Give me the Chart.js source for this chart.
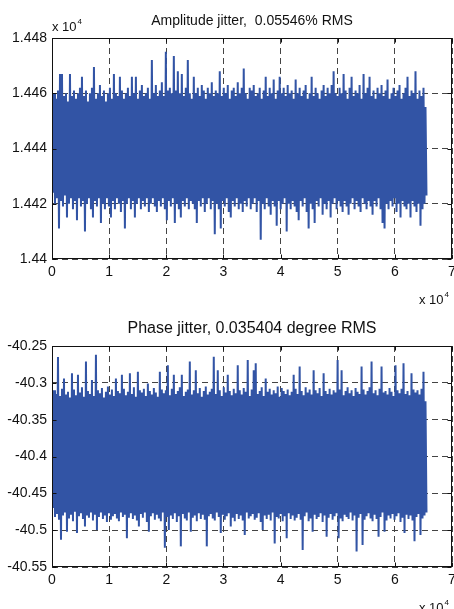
<!DOCTYPE html>
<html>
<head>
<meta charset="utf-8">
<script src="https://cdn.jsdelivr.net/npm/chart.js@4.4.1/dist/chart.umd.min.js"></script>
<style>
  html, body { margin: 0; padding: 0; background: #fff; }
  body { width: 454px; height: 609px; position: relative; overflow: hidden; }
  canvas { position: absolute; left: 0; display: block; }
  #c1 { top: 0; z-index: 1; }
  #c2 { top: 300px; z-index: 2; }
</style>
</head>
<body>
<canvas id="c1" width="454" height="312"></canvas>
<canvas id="c2" width="454" height="309"></canvas>
<script>
// ---------------- data ----------------
const SAMPLES = 65536;
const xTickValues = [0, 10000, 20000, 30000, 40000, 50000, 60000, 70000];
const xTickLabels = ['0', '1', '2', '3', '4', '5', '6', '7'];

const ampTicks = [1.44, 1.442, 1.444, 1.446, 1.448];
const ampTickLabels = ['1.44', '1.442', '1.444', '1.446', '1.448'];
const phaseTicks = [-40.55, -40.5, -40.45, -40.4, -40.35, -40.3, -40.25];
const phaseTickLabels = ['-40.55', '-40.5', '-40.45', '-40.4', '-40.35', '-40.3', '-40.25'];

const ampTitle = 'Amplitude jitter,  0.05546% RMS';
const phaseTitle = 'Phase jitter, 0.035404 degree RMS';

// amplitude (x 10^4): upper and lower excursions of the jitter trace
const ampHigh = [
  1.4455,1.4460,1.4458,1.4461,1.4467,1.4467,1.4459,1.4460,1.4457,1.4467,1.4459,1.4461,1.4458,1.4460,1.4462,1.4466,1.4459,1.4461,1.4457,1.4460,
  1.4462,1.44695,1.4458,1.4460,1.4463,1.4459,1.4461,1.4457,1.4460,1.4462,1.4458,1.4467,1.4460,1.4459,1.4466,1.4461,1.4458,1.4460,1.4462,1.4459,
  1.4466,1.4460,1.4466,1.4458,1.4461,1.4463,1.4459,1.4460,1.4462,1.4458,1.4472,1.4460,1.4463,1.4459,1.4461,1.4464,1.4459,1.4475,1.4461,1.4462,
  1.4460,1.44735,1.4461,1.4468,1.4460,1.4467,1.4459,1.4462,1.4472,1.4460,1.4458,1.4466,1.4460,1.4462,1.4459,1.4463,1.4461,1.4458,1.4462,1.4460,
  1.4464,1.4459,1.4461,1.4460,1.4468,1.4459,1.4462,1.4460,1.4463,1.4458,1.4461,1.4462,1.4459,1.4464,1.4460,1.4462,1.4469,1.4460,1.4458,1.4462,
  1.4461,1.4463,1.4459,1.4460,1.4462,1.4458,1.4461,1.4466,1.4459,1.4462,1.4460,1.4465,1.4458,1.4461,1.4466,1.4460,1.4462,1.4459,1.4463,1.4460,
  1.4461,1.4458,1.4465,1.4460,1.4462,1.4459,1.4461,1.4463,1.4458,1.4460,1.4466,1.4459,1.4462,1.4460,1.4458,1.4461,1.4463,1.4459,1.4462,1.4460,
  1.4463,1.4468,1.4460,1.4459,1.4462,1.4460,1.4467,1.4461,1.4458,1.4462,1.4466,1.4459,1.4461,1.4460,1.4463,1.4458,1.4467,1.4460,1.4462,1.4466,
  1.4459,1.4461,1.4458,1.4462,1.4460,1.4463,1.4459,1.4461,1.4465,1.4458,1.4460,1.4462,1.4459,1.4461,1.4463,1.4458,1.4460,1.4462,1.4466,1.4459,
  1.4461,1.4460,1.4468,1.4458,1.4461,1.4459,1.4462,1.4455
];
const ampLow = [
  1.4424,1.4420,1.4422,1.4411,1.4421,1.4419,1.4423,1.4415,1.4420,1.4422,1.4418,1.4421,1.4414,1.4422,1.4419,1.4421,1.4410,1.4420,1.4422,1.4418,
  1.4415,1.4421,1.4419,1.4422,1.4413,1.4420,1.4418,1.4422,1.4419,1.4415,1.4421,1.4418,1.4422,1.4420,1.4417,1.4421,1.4411,1.4420,1.4422,1.4418,
  1.4421,1.4415,1.4420,1.4422,1.4418,1.4421,1.4419,1.4422,1.4417,1.4420,1.4422,1.4419,1.4417,1.4421,1.4419,1.4422,1.4418,1.4414,1.4421,1.4419,
  1.4422,1.4413,1.4420,1.4418,1.4415,1.4421,1.4419,1.4422,1.4418,1.4421,1.4420,1.4418,1.4413,1.4421,1.4419,1.4422,1.4417,1.4420,1.4422,1.4418,
  1.4421,1.4409,1.4420,1.4418,1.4411,1.4421,1.4419,1.4422,1.4417,1.4415,1.4421,1.4419,1.4422,1.4418,1.4420,1.4417,1.4421,1.4419,1.4422,1.4418,
  1.4420,1.4422,1.4417,1.4421,1.4407,1.4420,1.4418,1.4422,1.4419,1.4416,1.4421,1.4419,1.4412,1.4421,1.4418,1.4420,1.4422,1.4410,1.4420,1.4418,
  1.4421,1.4419,1.4417,1.4414,1.4421,1.4419,1.4422,1.4417,1.4411,1.4420,1.4418,1.4413,1.4421,1.4419,1.4422,1.4416,1.4420,1.4418,1.4421,1.4415,
  1.4420,1.4422,1.4418,1.4421,1.4419,1.4417,1.4421,1.4419,1.4416,1.4420,1.4422,1.4418,1.4421,1.4419,1.4417,1.4422,1.4420,1.4418,1.4421,1.4419,
  1.4416,1.4421,1.4419,1.4422,1.4418,1.4413,1.4411,1.4420,1.4418,1.4421,1.4419,1.4422,1.4417,1.4420,1.4415,1.4421,1.4419,1.4418,1.4420,1.4415,
  1.4421,1.4419,1.4417,1.4420,1.4412,1.4418,1.4420,1.4423
];

// phase (degrees): upper and lower excursions of the jitter trace
const phaseHigh = [
  -40.320,-40.310,-40.315,-40.265,-40.318,-40.308,-40.294,-40.316,-40.312,-40.320,-40.287,-40.309,-40.317,-40.289,-40.313,-40.306,-40.319,-40.271,-40.311,-40.315,
  -40.296,-40.318,-40.262,-40.310,-40.314,-40.307,-40.320,-40.312,-40.305,-40.316,-40.309,-40.318,-40.294,-40.311,-40.314,-40.289,-40.308,-40.317,-40.312,-40.287,
  -40.315,-40.306,-40.319,-40.285,-40.310,-40.313,-40.308,-40.318,-40.301,-40.311,-40.316,-40.307,-40.313,-40.319,-40.285,-40.309,-40.314,-40.310,-40.276,-40.317,
  -40.308,-40.289,-40.315,-40.311,-40.306,-40.289,-40.318,-40.312,-40.309,-40.271,-40.316,-40.310,-40.283,-40.314,-40.307,-40.319,-40.311,-40.305,-40.316,-40.312,
  -40.308,-40.2645,-40.315,-40.283,-40.310,-40.318,-40.306,-40.313,-40.289,-40.311,-40.317,-40.308,-40.314,-40.276,-40.310,-40.316,-40.307,-40.312,-40.269,-40.318,
  -40.309,-40.283,-40.2735,-40.315,-40.311,-40.306,-40.318,-40.294,-40.312,-40.308,-40.316,-40.310,-40.314,-40.305,-40.319,-40.307,-40.311,-40.315,-40.309,-40.317,
  -40.312,-40.289,-40.308,-40.315,-40.278,-40.311,-40.317,-40.306,-40.313,-40.309,-40.316,-40.283,-40.310,-40.314,-40.307,-40.318,-40.287,-40.311,-40.315,-40.308,
  -40.316,-40.310,-40.313,-40.269,-40.309,-40.283,-40.317,-40.311,-40.306,-40.314,-40.310,-40.318,-40.307,-40.312,-40.315,-40.278,-40.309,-40.316,-40.311,-40.306,
  -40.271,-40.314,-40.310,-40.317,-40.308,-40.278,-40.313,-40.311,-40.316,-40.307,-40.312,-40.318,-40.276,-40.310,-40.314,-40.308,-40.2735,-40.315,-40.311,-40.317,
  -40.287,-40.309,-40.313,-40.310,-40.316,-40.308,-40.285,-40.325
];
const phaseLow = [
  -40.470,-40.482,-40.478,-40.486,-40.513,-40.480,-40.476,-40.502,-40.484,-40.479,-40.488,-40.475,-40.504,-40.481,-40.477,-40.485,-40.495,-40.480,-40.483,-40.476,
  -40.487,-40.479,-40.4997,-40.482,-40.476,-40.485,-40.480,-40.489,-40.477,-40.486,-40.481,-40.478,-40.484,-40.488,-40.476,-40.482,-40.479,-40.511,-40.483,-40.477,
  -40.485,-40.480,-40.487,-40.495,-40.478,-40.483,-40.476,-40.489,-40.502,-40.481,-40.477,-40.486,-40.479,-40.484,-40.488,-40.476,-40.524,-40.482,-40.4997,-40.480,
  -40.485,-40.477,-40.489,-40.481,-40.522,-40.478,-40.484,-40.487,-40.476,-40.502,-40.483,-40.480,-40.488,-40.477,-40.485,-40.479,-40.486,-40.522,-40.481,-40.478,
  -40.484,-40.487,-40.476,-40.482,-40.504,-40.479,-40.486,-40.481,-40.477,-40.495,-40.483,-40.488,-40.478,-40.485,-40.480,-40.487,-40.5065,-40.476,-40.484,-40.481,
  -40.478,-40.486,-40.483,-40.477,-40.489,-40.4997,-40.480,-40.485,-40.479,-40.487,-40.476,-40.518,-40.482,-40.484,-40.478,-40.488,-40.481,-40.511,-40.477,-40.485,
  -40.480,-40.487,-40.483,-40.478,-40.486,-40.527,-40.481,-40.476,-40.488,-40.484,-40.502,-40.479,-40.485,-40.482,-40.477,-40.489,-40.480,-40.509,-40.483,-40.478,
  -40.486,-40.481,-40.477,-40.511,-40.484,-40.488,-40.479,-40.482,-40.485,-40.476,-40.487,-40.480,-40.529,-40.483,-40.478,-40.520,-40.486,-40.481,-40.477,-40.484,
  -40.488,-40.479,-40.485,-40.509,-40.482,-40.476,-40.502,-40.487,-40.480,-40.484,-40.478,-40.486,-40.481,-40.477,-40.489,-40.483,-40.504,-40.479,-40.485,-40.480,
  -40.487,-40.515,-40.482,-40.478,-40.5065,-40.484,-40.480,-40.476
];

// ---------------- chart construction ----------------
Chart.defaults.font.family = '"Liberation Sans", Arial, Helvetica, sans-serif';
Chart.defaults.color = '#111';

function trace(high, low) {
  const n = high.length;
  const step = (SAMPLES - 1) / (2 * n - 1);
  const pts = [];
  for (let i = 0; i < n; i++) {
    pts.push({ x: Math.round(2 * i * step), y: high[i] });
    pts.push({ x: Math.round((2 * i + 1) * step), y: low[i] });
  }
  return pts;
}

const boxPlugin = {
  id: 'matlabBox',
  afterDraw(chart, args, opts) {
    const { ctx, chartArea: a, scales } = chart;
    const L = Math.round(a.left) + 0.5, R = Math.round(a.right) - 0.5;
    const T = Math.round(a.top) + 0.5, B = Math.round(a.bottom) - 0.5;
    ctx.save();
    ctx.strokeStyle = '#111';
    ctx.lineWidth = 1;
    ctx.setLineDash([]);
    ctx.beginPath();
    scales.x.ticks.forEach(t => {
      const px = Math.round(scales.x.getPixelForValue(t.value)) + 0.5;
      ctx.moveTo(px, B); ctx.lineTo(px, B - 4);
      ctx.moveTo(px, T); ctx.lineTo(px, T + 4);
    });
    scales.y.ticks.forEach(t => {
      const py = Math.round(scales.y.getPixelForValue(t.value)) + 0.5;
      ctx.moveTo(L, py); ctx.lineTo(L + 4, py);
      ctx.moveTo(R, py); ctx.lineTo(R - 4, py);
    });
    ctx.stroke();
    ctx.strokeRect(L, T, R - L, B - T);
    // exponent labels
    ctx.fillStyle = '#111';
    ctx.textBaseline = 'alphabetic';
    ctx.textAlign = 'left';
    const drawExp = (x, y) => {
      ctx.font = '13px "Liberation Sans", Arial, sans-serif';
      ctx.fillText('x 10', x, y);
      const w = ctx.measureText('x 10').width;
      ctx.font = '8px "Liberation Sans", Arial, sans-serif';
      ctx.fillText('4', x + w + 1, y - 7);
    };
    if (opts.yExp) drawExp(a.left, a.top - 7);
    if (opts.xExp) drawExp(419, a.bottom + 45);
    ctx.restore();
  }
};

function makeChart(canvasId, data, yTicks, yLabels, yMin, yMax, title, titleSize, titlePad, xAxisHeight, yExp) {
  return new Chart(document.getElementById(canvasId), {
    type: 'line',
    data: {
      datasets: [{
        data: data,
        borderColor: '#3254a5',
        borderWidth: 2,
        pointRadius: 0,
        tension: 0,
        fill: false
      }]
    },
    options: {
      responsive: false,
      animation: false,
      devicePixelRatio: 1,
      events: [],
      layout: { padding: { left: 0, right: 2, top: 0, bottom: 0 } },
      plugins: {
        legend: { display: false },
        tooltip: { enabled: false },
        title: {
          display: true,
          fullSize: false,
          text: title,
          color: '#111',
          font: { size: titleSize, weight: 'normal', lineHeight: 1.2 },
          padding: titlePad
        },
        matlabBox: { yExp: yExp, xExp: true }
      },
      scales: {
        x: {
          type: 'linear',
          min: 0,
          max: 70000,
          afterBuildTicks: s => { s.ticks = xTickValues.map(v => ({ value: v })); },
          afterFit: s => { s.height = xAxisHeight; s.paddingLeft = 0; s.paddingRight = 0; },
          ticks: {
            font: { size: 14 },
            color: '#111',
            padding: 5,
            maxRotation: 0,
            autoSkip: false,
            callback: (v) => xTickLabels[xTickValues.indexOf(v)]
          },
          grid: { color: '#444', lineWidth: 1, drawTicks: false },
          border: { display: false, dash: [6, 4] }
        },
        y: {
          type: 'linear',
          min: yMin,
          max: yMax,
          afterBuildTicks: s => { s.ticks = yTicks.map(v => ({ value: v })); },
          afterFit: s => { s.width = 52; s.paddingTop = 0; s.paddingBottom = 0; },
          ticks: {
            font: { size: 14 },
            color: '#111',
            padding: 5,
            autoSkip: false,
            callback: (v) => yLabels[yTicks.indexOf(v)]
          },
          grid: { color: '#444', lineWidth: 1, drawTicks: false },
          border: { display: false, dash: [6, 4] }
        }
      }
    },
    plugins: [boxPlugin]
  });
}

makeChart('c1', trace(ampHigh, ampLow), ampTicks, ampTickLabels, 1.44, 1.448,
  ampTitle, 14, { top: 12.6, bottom: 8.6 }, 53, true);
makeChart('c2', trace(phaseHigh, phaseLow), phaseTicks, phaseTickLabels, -40.55, -40.25,
  phaseTitle, 16, { top: 19.1, bottom: 7.7 }, 42, false);
</script>
</body>
</html>
